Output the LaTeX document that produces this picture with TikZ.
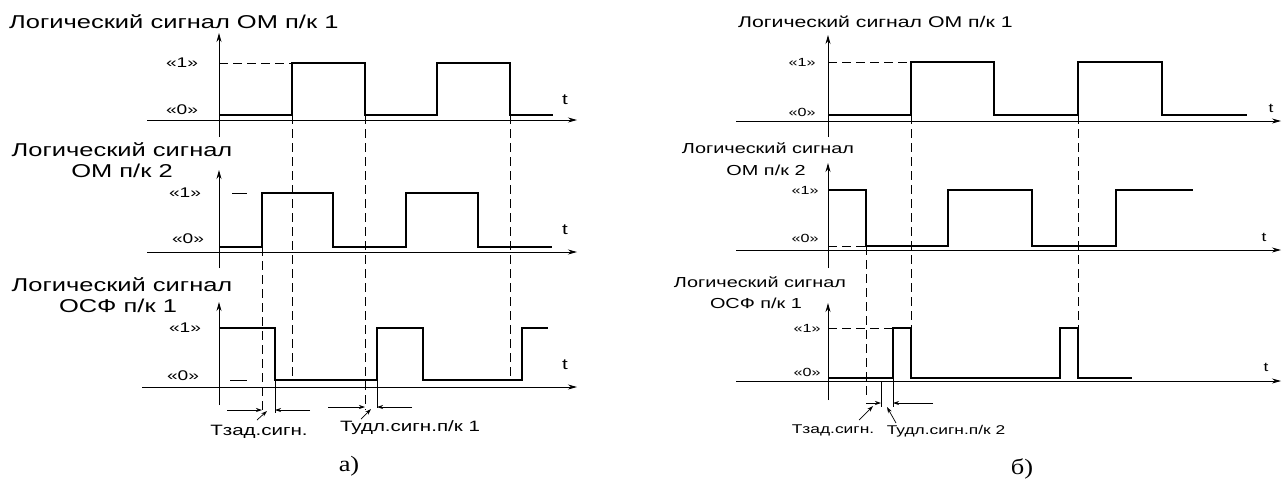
\documentclass[tikz,border=0pt]{standalone}
\usepackage{fontspec}
\setmainfont{Liberation Sans}[FakeStretch=1.37]
\newfontfamily\serifw{Liberation Serif}[FakeStretch=1.2]
\usetikzlibrary{arrows.meta}
\newcommand{\fs}[1]{\fontsize{#1}{#1}\selectfont}
\begin{document}
\begin{tikzpicture}[x=1pt,y=-1pt,
  axis/.style={line width=0.8pt,-{Stealth[length=9pt,width=5pt]}},
  yaxis/.style={line width=0.8pt,-{Stealth[length=9pt,width=5pt]}},
  sig/.style={line width=2.2pt,line join=miter},
  guide/.style={line width=0.7pt,dash pattern=on 9pt off 5pt},
  thinl/.style={line width=0.7pt},
  tarrow/.style={line width=0.7pt,-{Stealth[length=6pt,width=4pt]}},
  ttlL/.style={inner sep=0pt,font=\fs{18.6}},
  ttlR/.style={inner sep=0pt,font=\fs{15.5}},
  ttlRs/.style={inner sep=0pt,font=\fs{14.5}},
  lvlL/.style={inner sep=0pt,font=\fs{14}},
  lvlR/.style={inner sep=0pt,font=\fs{11.8}},
  tL/.style={inner sep=0pt,font=\fs{15}},
  tR/.style={inner sep=0pt,font=\fs{12.7}},
  captext/.style={inner sep=0pt,font=\serifw\fs{22}}]
\useasboundingbox (0,0) rectangle (1287,483);

% ================= LEFT (a) =================
\node[ttlL,anchor=west] (LT1) at (9,22) {Логический сигнал ОМ п/к 1};
\node[ttlL] (LT2a) at (122,150) {Логический сигнал};
\node[ttlL] (LT2b) at (122,171) {ОМ п/к 2};
\node[ttlL] (LT3a) at (122,285) {Логический сигнал};
\node[ttlL] (LT3b) at (118,306) {ОСФ п/к 1};

% top
\coordinate (LAy1b) at (219,137); \coordinate (LAy1t) at (219,33);
\coordinate (LAx1l) at (147,120); \coordinate (LAx1r) at (577,120);
\draw[yaxis] (LAy1b) -- (LAy1t);
\draw[axis] (LAx1l) -- (LAx1r);
\node[lvlL] (L1one) at (182,63) {«1»};
\node[lvlL] (L1zero) at (182,110) {«0»};
\node[tL] (L1t) at (565,100) {t};
\draw[sig] (219,115) -- (292,115) -- (292,63) -- (365,63) -- (365,115) -- (437,115) -- (437,63) -- (510,63) -- (510,115) -- (553,115);
\draw[guide] (219,63) -- (292,63);

% middle
\coordinate (LAy2b) at (219,268); \coordinate (LAy2t) at (219,170);
\coordinate (LAx2l) at (147,252); \coordinate (LAx2r) at (577,252);
\draw[yaxis] (LAy2b) -- (LAy2t);
\draw[axis] (LAx2l) -- (LAx2r);
\node[lvlL] (L2one) at (185,193) {«1»};
\node[lvlL] (L2zero) at (188,239) {«0»};
\node[tL] (L2t) at (565,230) {t};
\draw[sig] (219,247) -- (262,247) -- (262,193) -- (333,193) -- (333,247) -- (406,247) -- (406,193) -- (478,193) -- (478,247) -- (552,247);
\draw[thinl] (232,193) -- (247,193);

% bottom
\coordinate (LAy3b) at (219,405); \coordinate (LAy3t) at (219,302);
\coordinate (LAx3l) at (142,387); \coordinate (LAx3r) at (577,387);
\draw[yaxis] (LAy3b) -- (LAy3t);
\draw[axis] (LAx3l) -- (LAx3r);
\node[lvlL] (L3one) at (185,328) {«1»};
\node[lvlL] (L3zero) at (183,376) {«0»};
\node[tL] (L3t) at (565,365) {t};
\draw[sig] (219,328) -- (275,328) -- (275,380) -- (377,380) -- (377,328) -- (423,328) -- (423,380) -- (522,380) -- (522,328) -- (548,328);
\draw[thinl] (230,380) -- (247,380);

% guide lines
\draw[guide] (262,247) -- (262,410);
\draw[guide] (292,115) -- (292,380);
\draw[guide] (365,115) -- (365,410);
\draw[guide] (510,115) -- (510,380);
\draw[thinl] (275,380) -- (275,413);
\draw[thinl] (377,380) -- (377,408);

% T markers
\draw[tarrow] (227,410) -- (262,410);
\draw[tarrow] (310,410) -- (275,410);
\node[tL] (LTz) at (259,432) {Тзад.сигн.};
\draw[tarrow] (257,420) -- (267,411);
\draw[tarrow] (328,407) -- (365,407);
\draw[tarrow] (412,407) -- (377,407);
\node[tL] (LTu) at (410,428) {Тудл.сигн.п/к 1};
\draw[tarrow] (361,419) -- (371,409);
\node[captext] (La) at (349,466) {а)};

% ================= RIGHT (b) =================
\node[ttlR,anchor=west] (RT1) at (738,22) {Логический сигнал ОМ п/к 1};
\node[ttlRs] (RT2a) at (768,148) {Логический сигнал};
\node[ttlRs] (RT2b) at (766,170) {ОМ п/к 2};
\node[ttlRs] (RT3a) at (760,282) {Логический сигнал};
\node[ttlRs] (RT3b) at (756,303) {ОСФ п/к 1};

% top
\coordinate (RAy1b) at (828,137); \coordinate (RAy1t) at (828,35);
\coordinate (RAx1l) at (736,121); \coordinate (RAx1r) at (1281,121);
\draw[yaxis] (RAy1b) -- (RAy1t);
\draw[axis] (RAx1l) -- (RAx1r);
\node[lvlR] (R1one) at (802,62) {«1»};
\node[lvlR] (R1zero) at (802,112) {«0»};
\node[tR] (R1t) at (1271,108) {t};
\draw[sig] (828,115) -- (911,115) -- (911,62) -- (994,62) -- (994,115) -- (1078,115) -- (1078,62) -- (1162,62) -- (1162,115) -- (1247,115);
\draw[guide] (828,62) -- (911,62);

% middle
\coordinate (RAy2b) at (828,268); \coordinate (RAy2t) at (828,163);
\coordinate (RAx2l) at (736,250); \coordinate (RAx2r) at (1281,250);
\draw[yaxis] (RAy2b) -- (RAy2t);
\draw[axis] (RAx2l) -- (RAx2r);
\node[lvlR] (R2one) at (805,190) {«1»};
\node[lvlR] (R2zero) at (805,238) {«0»};
\node[tR] (R2t) at (1264,237) {t};
\draw[sig] (828,190) -- (866,190) -- (866,246) -- (948,246) -- (948,190) -- (1032,190) -- (1032,246) -- (1116,246) -- (1116,190) -- (1193,190);
\draw[guide] (828,246) -- (866,246);

% bottom
\coordinate (RAy3b) at (828,400); \coordinate (RAy3t) at (828,303);
\coordinate (RAx3l) at (736,381); \coordinate (RAx3r) at (1281,381);
\draw[yaxis] (RAy3b) -- (RAy3t);
\draw[axis] (RAx3l) -- (RAx3r);
\node[lvlR] (R3one) at (807,328) {«1»};
\node[lvlR] (R3zero) at (807,372) {«0»};
\node[tR] (R3t) at (1266,367) {t};
\draw[sig] (828,378) -- (893,378) -- (893,328) -- (911,328) -- (911,378) -- (1060,378) -- (1060,328) -- (1078,328) -- (1078,378) -- (1132,378);
\draw[guide] (828,328) -- (893,328);

% guides
\draw[guide] (866,246) -- (866,397);
\draw[guide] (911,115) -- (911,328);
\draw[guide] (1078,115) -- (1078,328);
\draw[thinl] (881,381) -- (881,407);
\draw[thinl] (893,378) -- (893,407);

% T markers
\draw[tarrow] (866,403) -- (881,403);
\draw[tarrow] (933,403) -- (893,403);
\node[tR] (RTz) at (833,430) {Тзад.сигн.};
\draw[tarrow] (859,420) -- (873,406);
\node[tR] (RTu) at (946,431) {Тудл.сигн.п/к 2};
\draw[tarrow] (896,423) -- (887,407);
\node[captext] (Rb) at (1022,469) {б)};
\end{tikzpicture}
\end{document}
